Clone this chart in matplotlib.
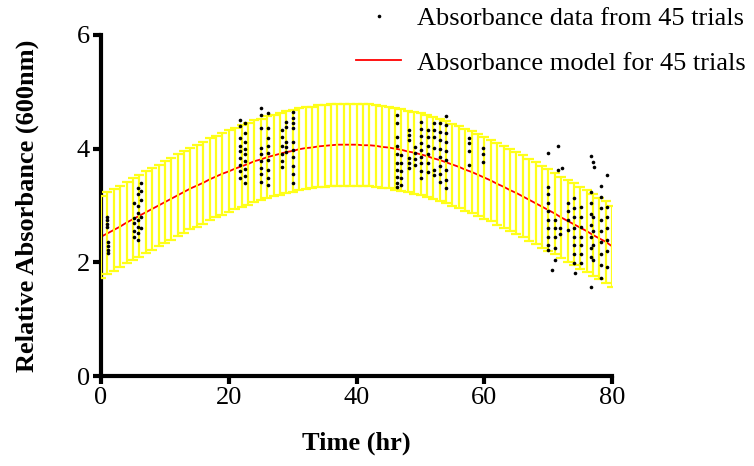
import matplotlib.pyplot as plt
from matplotlib.lines import Line2D

# model curve, read every hour from 0 to 80
model_time = list(range(0, 81))
model_abs = [2.45, 2.51, 2.57, 2.63, 2.70, 2.76, 2.82, 2.88, 2.94, 3.00,
             3.06, 3.12, 3.18, 3.24, 3.30, 3.35, 3.40, 3.46, 3.51, 3.56,
             3.60, 3.65, 3.69, 3.73, 3.78, 3.81, 3.85, 3.88, 3.91, 3.94,
             3.96, 3.99, 4.01, 4.02, 4.04, 4.05, 4.06, 4.07, 4.07, 4.07,
             4.07, 4.06, 4.06, 4.05, 4.03, 4.02, 4.00, 3.98, 3.95, 3.93,
             3.90, 3.87, 3.83, 3.80, 3.76, 3.72, 3.68, 3.63, 3.59, 3.54,
             3.49, 3.44, 3.38, 3.33, 3.27, 3.22, 3.16, 3.10, 3.04, 2.98,
             2.92, 2.86, 2.79, 2.73, 2.67, 2.61, 2.55, 2.48, 2.42, 2.36,
             2.28]
model_err = 0.72

# measured absorbance, grouped by sampling time
obs_time = [1.0, 1.1, 5.2, 5.8, 6.3,
            21.8, 22.6, 25.0, 26.1, 28.3, 29.0, 30.0,
            46.3, 47.0, 48.2, 49.1, 50.1, 51.2, 52.1, 53.1, 54.0,
            57.6, 59.8,
            70.0, 70.6, 71.0, 71.5, 72.1, 71.8, 73.1, 74.0, 74.2, 75.1,
            76.7, 77.0, 77.1, 78.2, 79.2]
obs_abs = [
    [2.62, 2.68, 2.74, 2.80],
    [2.16, 2.22, 2.28, 2.35],
    [2.45, 2.55, 2.70, 2.78, 3.05],
    [2.40, 2.52, 2.62, 2.74, 2.86, 3.00, 3.20, 3.30],
    [2.60, 2.80, 3.10, 3.25, 3.40],
    [4.50, 4.39, 4.19, 4.05, 3.95, 3.84, 3.72, 3.60, 3.48],
    [4.45, 4.28, 4.12, 4.00, 3.90, 3.78, 3.65, 3.52, 3.40],
    [4.72, 4.59, 4.36, 4.01, 3.90, 3.78, 3.66, 3.55, 3.41],
    [4.63, 4.36, 4.19, 4.05, 3.92, 3.80, 3.62, 3.48, 3.36],
    [4.33, 4.20, 4.05, 3.90, 3.78, 3.68],
    [4.47, 4.38, 4.12, 4.03, 3.94],
    [4.65, 4.54, 4.45, 4.36, 4.12, 3.98, 3.85, 3.70, 3.55, 3.40],
    [4.59, 4.45, 4.20, 4.05, 3.90, 3.75, 3.62, 3.50, 3.40, 3.33],
    [3.89, 3.75, 3.60, 3.48, 3.36],
    [4.33, 4.24, 4.15, 3.84, 3.75, 3.66],
    [4.03, 3.92, 3.81, 3.71],
    [4.47, 4.35, 4.22, 4.10, 3.98, 3.86, 3.74, 3.61, 3.48],
    [4.33, 4.20, 4.05, 3.90, 3.75, 3.59],
    [4.45, 4.32, 4.20, 4.01, 3.62, 3.54],
    [4.45, 4.30, 4.15, 4.00, 3.85, 3.70, 3.55, 3.41],
    [4.58, 4.42, 4.28, 4.12, 3.95, 3.80, 3.62, 3.45, 3.31],
    [4.19, 4.10, 3.96, 3.71],
    [4.01, 3.90, 3.77],
    [3.92, 3.33, 3.20, 3.05, 2.90, 2.75, 2.60, 2.45, 2.30, 2.22],
    [1.87],
    [2.74, 2.60, 2.45, 2.25, 2.04],
    [4.05, 3.63],
    [3.66],
    [2.60, 2.50],
    [3.04, 2.90, 2.75, 2.57],
    [3.13, 2.95, 2.80, 2.60, 2.45, 2.30, 2.15, 1.99],
    [1.81],
    [2.97, 2.80, 2.62, 2.45, 2.30, 2.15, 1.99],
    [3.87, 3.24, 3.05, 2.85, 2.65, 2.45, 2.25, 2.09, 1.57],
    [3.77, 2.80, 2.55, 2.30, 2.05],
    [3.68],
    [3.34, 3.15, 2.95, 2.75, 2.55, 2.35, 2.15, 1.95, 1.72],
    [3.54, 2.97, 2.80, 2.60, 2.40, 2.20, 1.92],
]

xs, ys = [], []
for t, vals in zip(obs_time, obs_abs):
    xs += [t] * len(vals)
    ys += vals

plt.rcParams['font.family'] = ['Liberation Serif', 'DejaVu Serif']
plt.rcParams['font.size'] = 19

fig = plt.figure(figsize=(7.54, 4.66), dpi=100)
ax = fig.add_axes([0.134, 0.193, 0.678, 0.732])

ax.plot(model_time, model_abs, color='red', lw=1.3, zorder=2)
ax.errorbar(model_time, model_abs, yerr=model_err, fmt='none',
            ecolor='#ffff1a', elinewidth=1.6, capsize=3.5, capthick=1.6, zorder=3)
ax.plot(xs, ys, 'o', color='black', ms=2.6, mew=0, zorder=4)

ax.set_xlim(0, 80)
ax.set_ylim(0, 6)
ax.set_xticks([0, 20, 40, 60, 80])
ax.set_yticks([0, 2, 4, 6])
for s in ['top', 'right']:
    ax.spines[s].set_visible(False)
for s in ['left', 'bottom']:
    ax.spines[s].set_linewidth(3)
ax.tick_params(width=3, length=6, pad=2)

ax.set_xlabel('Time (hr)', fontweight='bold', labelpad=16)
ax.set_ylabel('Relative Absorbance (600nm)', fontweight='bold', labelpad=27)

handles = [Line2D([], [], marker='o', ls='none', color='black', ms=2.6, mew=0),
           Line2D([], [], color='red', lw=1.3)]
fig.legend(handles, ['Absorbance data from 45 trials', 'Absorbance model for 45 trials'],
           loc='upper right', bbox_to_anchor=(1.01, 1.02), frameon=False,
           handlelength=1.7, handletextpad=0.6, labelspacing=0.8, borderaxespad=0.2)

fig.savefig('out.png', dpi=100)
